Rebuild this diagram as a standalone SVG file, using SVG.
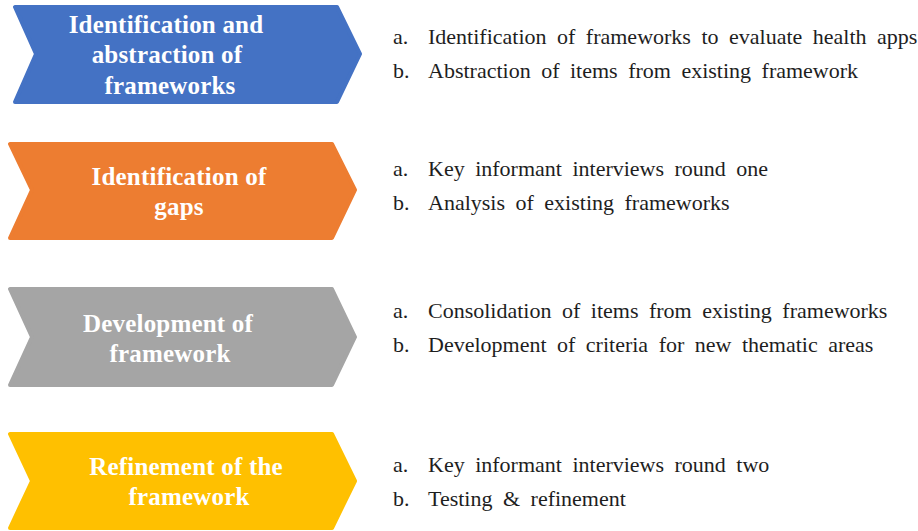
<svg xmlns="http://www.w3.org/2000/svg" width="918" height="531" viewBox="0 0 918 531">
  <style>
    .chev { stroke-width: 4; stroke-linejoin: round; }
    .blue { fill: #4472C4; stroke: #4472C4; }
    .orange { fill: #ED7D31; stroke: #ED7D31; }
    .gray { fill: #A5A5A5; stroke: #A5A5A5; }
    .gold { fill: #FFC000; stroke: #FFC000; }
    .title { font-family: "Liberation Serif", "Times New Roman", serif; font-weight: bold; font-size: 25px; fill: #FFFFFF; text-anchor: middle; letter-spacing: 0.2px; }
    .item { font-family: "Liberation Serif", "Times New Roman", serif; font-size: 22px; fill: #1E1E1E; word-spacing: 5px; }
  </style>
  <rect width="918" height="531" fill="#FFFFFF"/>

  <!-- Step 1 -->
  <g id="step1">
    <polygon class="chev blue" points="15,7 337,7 360,54 337,102 15,102 36,54"/>
    <text class="title" x="166" y="33">Identification and</text>
    <text class="title" x="167" y="63">abstraction of</text>
    <text class="title" x="170" y="94">frameworks</text>
  </g>
  <g id="step1-items">
    <text class="item" x="393" y="44">a.</text>
    <text class="item" x="428" y="44">Identification of frameworks to evaluate health apps</text>
    <text class="item" x="393" y="78">b.</text>
    <text class="item" x="428" y="78">Abstraction of items from existing framework</text>
  </g>

  <!-- Step 2 -->
  <g id="step2">
    <polygon class="chev orange" points="10,144 332,144 355,190 332,238 10,238 32,190"/>
    <text class="title" x="179" y="185">Identification of</text>
    <text class="title" x="179" y="215">gaps</text>
  </g>
  <g id="step2-items">
    <text class="item" x="393" y="176">a.</text>
    <text class="item" x="428" y="176">Key informant interviews round one</text>
    <text class="item" x="393" y="210">b.</text>
    <text class="item" x="428" y="210">Analysis of existing frameworks</text>
  </g>

  <!-- Step 3 -->
  <g id="step3">
    <polygon class="chev gray" points="10,289 332,289 355,337 332,385 10,385 32,337"/>
    <text class="title" x="168" y="332">Development of</text>
    <text class="title" x="170" y="362">framework</text>
  </g>
  <g id="step3-items">
    <text class="item" x="393" y="318">a.</text>
    <text class="item" x="428" y="318">Consolidation of items from existing frameworks</text>
    <text class="item" x="393" y="352">b.</text>
    <text class="item" x="428" y="352">Development of criteria for new thematic areas</text>
  </g>

  <!-- Step 4 -->
  <g id="step4">
    <polygon class="chev gold" points="10,434 332,434 355,481 332,528 10,528 32,481"/>
    <text class="title" x="186" y="475">Refinement of the</text>
    <text class="title" x="189" y="505">framework</text>
  </g>
  <g id="step4-items">
    <text class="item" x="393" y="472">a.</text>
    <text class="item" x="428" y="472">Key informant interviews round two</text>
    <text class="item" x="393" y="506">b.</text>
    <text class="item" x="428" y="506">Testing &amp; refinement</text>
  </g>

  <!-- steps follow one another top to bottom; no separate connector lines -->
  <g id="connectors"/>
</svg>
